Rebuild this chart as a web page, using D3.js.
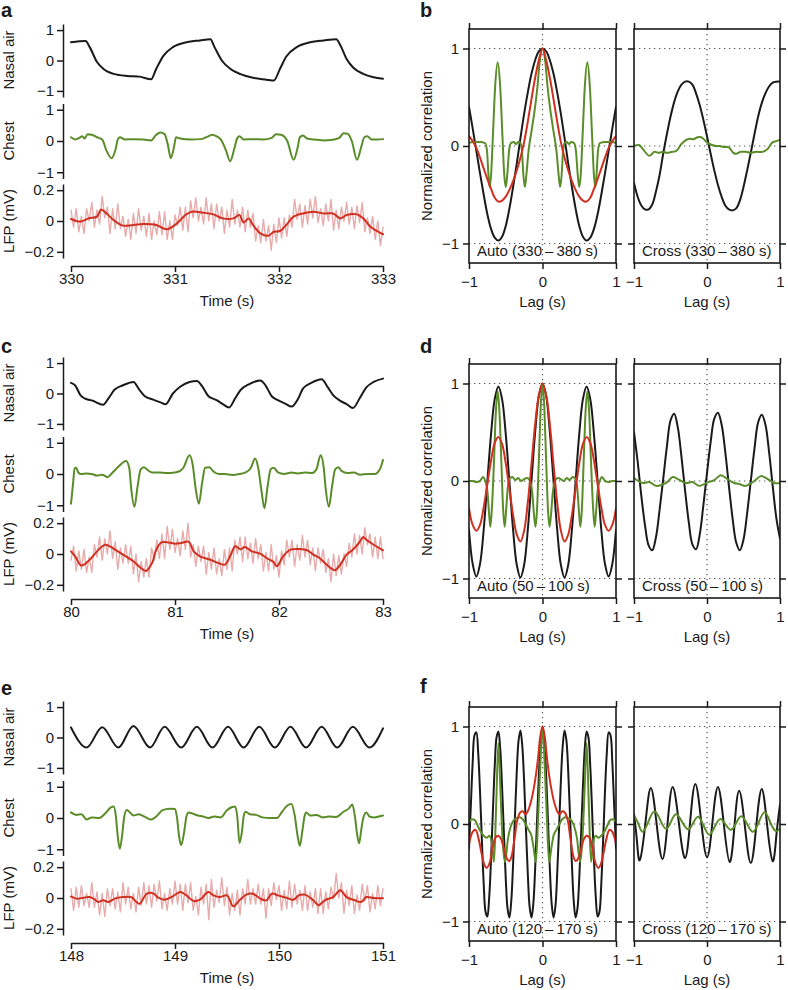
<!DOCTYPE html>
<html><head><meta charset="utf-8">
<script src="https://cdn.jsdelivr.net/npm/d3@7"></script>
<style>body{margin:0;background:#fff}svg{display:block}</style>
</head><body><svg id="c" width="788" height="990"></svg>
<script>
// ---------------- DATA ----------------
// Panel a (330-333 s)
const xTicksA = [330,331,332,333];
const nasalA_t = [330.00,330.14,330.18,330.25,330.31,330.41,330.54,330.66,330.77,330.82,330.89,330.98,331.11,331.24,331.34,331.38,331.45,331.53,331.63,331.75,331.88,331.95,332.01,332.07,332.17,332.30,332.43,332.55,332.59,332.65,332.71,332.81,332.91,333.00];
const nasalA_v = [0.60,0.64,0.44,-0.05,-0.27,-0.44,-0.51,-0.53,-0.62,-0.27,0.16,0.44,0.60,0.66,0.70,0.44,0.00,-0.27,-0.45,-0.57,-0.63,-0.66,-0.27,0.13,0.44,0.60,0.66,0.70,0.50,0.05,-0.22,-0.44,-0.55,-0.60];
const chestA_t = [330.00,330.04,330.08,330.11,330.13,330.16,330.20,330.25,330.30,330.34,330.39,330.43,330.45,330.47,330.52,330.60,330.70,330.77,330.82,330.86,330.90,330.93,330.96,330.99,331.01,331.05,331.15,331.25,331.32,331.36,331.40,331.44,331.49,331.53,331.57,331.60,331.62,331.66,331.75,331.85,331.93,331.97,332.02,332.08,332.14,332.18,332.20,332.23,332.27,332.33,332.43,332.50,332.58,332.62,332.66,332.70,332.75,332.79,332.82,332.85,332.89,332.95,333.00];
const chestA_v = [0.12,0.05,0.10,0.15,0.08,0.22,0.20,0.12,0.05,-0.30,-0.55,-0.25,0.05,0.12,0.05,0.06,0.05,0.02,0.20,0.27,0.22,-0.10,-0.55,-0.20,0.12,0.08,0.05,0.06,0.15,0.20,0.15,0.05,-0.30,-0.65,-0.25,0.10,0.15,0.05,0.06,0.05,0.10,0.22,0.20,0.00,-0.60,-0.20,0.12,0.18,0.08,0.05,0.02,0.03,0.10,0.25,0.23,0.00,-0.60,-0.20,0.12,0.15,0.05,0.05,0.06];
const lfpA_t = [330.00,330.09,330.17,330.25,330.29,330.34,330.41,330.50,330.60,330.70,330.82,330.92,331.02,331.10,331.16,331.27,331.37,331.46,331.56,331.62,331.66,331.71,331.75,331.82,331.90,331.95,332.01,332.07,332.14,332.23,332.33,332.43,332.52,332.59,332.65,332.75,332.81,332.88,333.00];
const lfpA_v = [0.013,-0.004,0.017,0.028,0.075,0.05,0.006,-0.03,-0.026,-0.02,-0.026,-0.054,-0.015,0.039,0.06,0.054,0.043,0.017,0.017,0.039,-0.01,0.017,-0.026,-0.08,-0.095,-0.07,-0.065,-0.026,0.028,0.049,0.06,0.049,0.049,0.017,0.039,0.043,0.017,-0.037,-0.086];
const lfpRawA = [0.07,-0.04,0.08,-0.07,0.03,-0.08,0.08,0.00,0.12,-0.04,0.07,-0.02,0.16,0.02,0.09,-0.08,0.08,-0.05,0.11,-0.05,0.03,-0.10,0.01,-0.12,0.05,-0.08,0.08,-0.06,0.03,-0.10,0.05,-0.12,0.00,-0.09,0.06,-0.09,0.06,-0.12,0.00,-0.12,0.04,-0.03,0.09,-0.06,0.09,-0.07,0.13,0.02,0.15,0.00,0.09,-0.02,0.15,0.00,0.11,-0.05,0.11,0.00,0.09,-0.08,0.07,-0.04,0.14,-0.02,0.07,-0.04,0.09,-0.07,0.07,-0.04,0.05,-0.13,-0.03,-0.14,0.01,-0.13,-0.03,-0.19,-0.02,-0.14,0.02,-0.11,0.02,-0.10,0.04,-0.04,0.14,0.01,0.11,-0.04,0.10,-0.02,0.14,0.02,0.16,-0.01,0.08,-0.03,0.11,0.00,0.14,-0.06,0.07,-0.05,0.09,0.00,0.12,-0.02,0.09,-0.05,0.10,-0.01,0.12,-0.07,0.02,-0.08,0.03,-0.12,0.00,-0.16,-0.04];

// Panel c (80-83 s)
const xTicksC = [80,81,82,83];
const nasalC_t = [80.00,80.04,80.09,80.13,80.21,80.31,80.36,80.42,80.50,80.60,80.66,80.71,80.79,80.86,80.91,80.98,81.05,81.14,81.21,81.26,81.32,81.40,81.46,81.52,81.58,81.63,81.71,81.82,81.87,81.93,81.99,82.06,82.12,82.19,82.23,82.31,82.41,82.47,82.52,82.59,82.65,82.71,82.78,82.84,82.91,83.00];
const nasalC_v = [0.35,0.27,-0.05,-0.16,-0.24,-0.37,-0.16,0.13,0.27,0.38,0.11,-0.09,-0.20,-0.29,-0.35,0.00,0.22,0.38,0.41,0.24,-0.08,-0.22,-0.35,-0.46,-0.15,0.11,0.30,0.43,0.27,-0.09,-0.22,-0.33,-0.43,-0.13,0.16,0.35,0.47,0.20,-0.05,-0.24,-0.35,-0.48,-0.13,0.20,0.38,0.49];
const chestC_t = [80.00,80.02,80.035,80.05,80.07,80.10,80.15,80.20,80.25,80.30,80.35,80.40,80.46,80.53,80.56,80.58,80.61,80.64,80.67,80.70,80.74,80.78,80.85,80.92,81.00,81.05,81.08,81.14,81.17,81.20,81.23,81.26,81.29,81.33,81.37,81.42,81.48,81.55,81.62,81.68,81.73,81.77,81.80,81.83,81.86,81.89,81.92,81.95,81.99,82.05,82.12,82.18,82.25,82.32,82.36,82.40,82.43,82.45,82.48,82.51,82.54,82.57,82.60,82.66,82.72,82.78,82.85,82.92,82.97,83.00];
const chestC_v = [-0.95,-0.30,0.18,0.20,0.05,0.00,0.02,0.00,-0.05,-0.02,-0.10,0.05,0.25,0.42,0.20,-0.50,-1.05,-0.40,0.15,0.22,0.12,0.05,0.05,0.03,0.05,0.10,0.20,0.60,0.30,-0.50,-0.95,-0.30,0.20,0.22,0.08,0.00,0.00,-0.03,0.00,0.05,0.20,0.50,0.20,-0.50,-1.10,-0.40,0.15,0.20,0.05,0.00,0.05,0.02,0.05,0.03,0.15,0.60,0.20,-0.50,-1.05,-0.40,0.15,0.22,0.10,0.03,0.05,-0.02,0.00,0.00,0.15,0.45];
const lfpC_t = [80.00,80.04,80.10,80.18,80.25,80.33,80.42,80.50,80.60,80.66,80.72,80.78,80.82,80.87,80.94,81.00,81.06,81.13,81.18,81.24,81.34,81.43,81.48,81.53,81.58,81.63,81.67,81.74,81.82,81.88,81.95,81.98,82.04,82.11,82.20,82.27,82.33,82.39,82.44,82.51,82.54,82.59,82.65,82.71,82.78,82.81,82.84,82.91,83.00];
const lfpC_v = [0.017,-0.015,-0.075,-0.037,0.017,0.06,0.03,-0.004,-0.047,-0.084,-0.11,-0.058,0.028,0.075,0.075,0.067,0.071,0.08,0.017,-0.015,-0.037,-0.062,-0.069,-0.015,0.05,0.03,0.045,0.017,0.002,-0.026,-0.054,-0.08,-0.015,0.028,0.032,0.024,-0.004,-0.026,-0.058,-0.097,-0.105,-0.069,-0.004,0.028,0.082,0.11,0.092,0.06,0.024];
const lfpRawC = [-0.04,0.05,-0.11,0.02,-0.10,0.03,-0.12,-0.02,-0.12,0.06,-0.02,0.11,-0.04,0.10,0.00,0.15,-0.03,0.08,-0.10,0.04,-0.06,0.06,-0.06,0.05,-0.13,0.00,-0.18,-0.05,-0.15,-0.03,-0.15,0.04,-0.04,0.09,-0.03,0.13,-0.03,0.18,0.03,0.16,0.01,0.10,-0.01,0.15,0.03,0.20,-0.02,0.06,-0.08,0.05,-0.05,0.05,-0.13,0.01,-0.10,0.04,-0.13,-0.03,-0.14,0.03,-0.10,0.04,-0.11,0.09,0.00,0.11,-0.05,0.11,-0.03,0.07,-0.06,0.10,-0.03,0.06,-0.11,0.01,-0.11,0.06,-0.10,-0.01,-0.15,0.02,-0.07,0.09,-0.02,0.09,-0.08,0.06,-0.04,0.12,-0.02,0.09,-0.07,0.04,-0.11,0.04,-0.06,0.03,-0.12,-0.03,-0.18,0.00,-0.14,-0.01,-0.13,0.00,-0.08,0.07,-0.02,0.13,0.00,0.12,0.00,0.17,0.06,0.13,-0.02,0.11,-0.03,0.11,-0.03];

// Panel e (148-151 s)
const xTicksE = [148,149,150,151];
const nasalE_t = [148.00,148.15,148.30,148.455,148.60,148.76,148.90,149.06,149.21,149.36,149.51,149.66,149.81,149.96,150.11,150.26,150.41,150.56,150.71,150.87,151.00];
const nasalE_v = [0.33,-0.33,0.34,-0.33,0.38,-0.33,0.35,-0.33,0.35,-0.33,0.35,-0.33,0.35,-0.33,0.35,-0.33,0.35,-0.33,0.35,-0.33,0.30];
const chestE_t = [148.00,148.05,148.10,148.15,148.20,148.27,148.33,148.38,148.41,148.43,148.45,148.47,148.49,148.51,148.535,148.56,148.60,148.65,148.72,148.77,148.82,148.88,148.95,149.00,149.02,149.04,149.06,149.09,149.11,149.13,149.16,149.22,149.27,149.32,149.38,149.44,149.50,149.55,149.58,149.60,149.62,149.645,149.66,149.68,149.72,149.78,149.84,149.92,149.98,150.03,150.08,150.12,150.15,150.18,150.20,150.225,150.245,150.26,150.30,150.36,150.42,150.48,150.55,150.62,150.67,150.705,150.73,150.75,150.77,150.79,150.81,150.84,150.87,150.92,150.96,151.00];
const chestE_v = [0.18,0.10,0.12,-0.05,0.02,0.00,0.15,0.33,0.37,0.10,-0.60,-0.98,-0.60,0.00,0.26,0.20,0.08,0.12,0.02,-0.05,0.05,0.25,0.30,0.29,0.00,-0.60,-0.87,-0.40,0.05,0.18,0.15,0.08,0.05,0.00,0.05,0.02,0.25,0.35,0.37,0.00,-0.80,-0.40,0.05,0.20,0.12,0.10,0.02,0.00,0.00,0.20,0.40,0.45,0.10,-0.60,-0.89,-0.40,0.05,0.18,0.08,0.10,0.02,0.05,0.03,0.20,0.30,0.43,0.05,-0.50,-0.81,-0.40,0.00,0.18,0.05,0.02,0.05,0.08];
const lfpE_t = [148.00,148.05,148.12,148.18,148.23,148.26,148.31,148.36,148.42,148.50,148.58,148.63,148.66,148.73,148.79,148.84,148.90,148.98,149.05,149.11,149.18,149.24,149.32,149.37,149.43,149.50,149.56,149.62,149.69,149.75,149.82,149.88,149.93,149.99,150.07,150.14,150.19,150.25,150.33,150.38,150.44,150.52,150.59,150.65,150.73,150.79,150.84,150.91,151.00];
const lfpE_v = [0.01,-0.004,0.002,0.006,-0.011,-0.026,-0.015,-0.026,-0.004,0.006,0.006,-0.026,-0.037,0.028,0.03,0.002,-0.011,0.011,0.039,0.017,-0.02,-0.011,0.039,0.017,0.006,0.017,-0.054,-0.015,0.024,0.028,-0.004,-0.015,0.028,0.017,0.002,-0.011,0.017,0.022,-0.015,-0.047,-0.015,0.006,0.05,0.006,-0.015,-0.026,0.006,0.0,-0.002];
const lfpRawE = [0.06,-0.08,0.07,-0.06,0.08,-0.05,0.03,-0.06,0.10,-0.06,0.04,-0.11,0.03,-0.12,0.06,-0.05,0.06,-0.07,0.04,-0.09,0.10,-0.04,0.07,-0.07,0.03,-0.09,0.07,-0.05,0.10,-0.04,0.08,-0.06,0.09,-0.02,0.11,-0.07,0.03,-0.08,0.06,-0.04,0.11,-0.04,0.09,-0.08,0.09,-0.03,0.10,-0.08,0.01,-0.11,0.07,-0.04,0.09,-0.14,0.12,-0.06,0.05,-0.03,0.13,-0.05,0.07,-0.11,0.03,-0.08,0.05,-0.11,0.06,-0.04,0.12,-0.04,0.06,-0.04,0.09,-0.04,0.06,-0.13,0.06,-0.05,0.10,-0.01,0.08,-0.08,0.05,-0.07,0.11,-0.06,0.09,-0.04,0.05,-0.08,0.08,-0.08,0.04,-0.06,0.06,-0.10,0.06,-0.10,0.04,-0.07,0.07,-0.01,0.16,0.00,0.10,-0.10,0.05,-0.05,0.08,-0.10,0.02,-0.08,0.09,-0.02,0.08,-0.09,0.03,-0.07,0.08,-0.05,0.06];
const rawDt = 0.025;

// Correlation panels
const lagTicks = [-1,0,1];
const lag41 = [-1,-0.95,-0.9,-0.85,-0.8,-0.75,-0.7,-0.65,-0.6,-0.55,-0.5,-0.45,-0.4,-0.35,-0.3,-0.25,-0.2,-0.15,-0.1,-0.05,0,0.05,0.1,0.15,0.2,0.25,0.3,0.35,0.4,0.45,0.5,0.55,0.6,0.65,0.7,0.75,0.8,0.85,0.9,0.95,1];
const lag81 = [-1,-0.975,-0.95,-0.925,-0.9,-0.875,-0.85,-0.825,-0.8,-0.775,-0.75,-0.725,-0.7,-0.675,-0.65,-0.625,-0.6,-0.575,-0.55,-0.525,-0.5,-0.475,-0.45,-0.425,-0.4,-0.375,-0.35,-0.325,-0.3,-0.275,-0.25,-0.225,-0.2,-0.175,-0.15,-0.125,-0.1,-0.075,-0.05,-0.025,0,0.025,0.05,0.075,0.1,0.125,0.15,0.175,0.2,0.225,0.25,0.275,0.3,0.325,0.35,0.375,0.4,0.425,0.45,0.475,0.5,0.525,0.55,0.575,0.6,0.625,0.65,0.675,0.7,0.725,0.75,0.775,0.8,0.825,0.85,0.875,0.9,0.925,0.95,0.975,1];

// b
const autoB_black = [0.40,0.18,-0.05,-0.28,-0.50,-0.70,-0.85,-0.94,-0.97,-0.93,-0.82,-0.64,-0.42,-0.18,0.08,0.33,0.55,0.74,0.88,0.97,1.00,0.97,0.88,0.74,0.55,0.33,0.08,-0.18,-0.42,-0.64,-0.82,-0.93,-0.97,-0.94,-0.85,-0.70,-0.50,-0.28,-0.05,0.18,0.40];
const autoB_red = [0.10,0.05,-0.02,-0.12,-0.23,-0.34,-0.44,-0.53,-0.57,-0.56,-0.52,-0.45,-0.36,-0.25,-0.12,0.04,0.25,0.48,0.70,0.88,1.00,0.88,0.70,0.48,0.25,0.04,-0.12,-0.25,-0.36,-0.45,-0.52,-0.56,-0.57,-0.53,-0.44,-0.34,-0.23,-0.12,-0.02,0.05,0.10];
const autoB_green_lag = [-1,-0.95,-0.85,-0.78,-0.755,-0.735,-0.72,-0.70,-0.675,-0.645,-0.61,-0.575,-0.545,-0.52,-0.50,-0.48,-0.455,-0.43,-0.39,-0.36,-0.33,-0.30,-0.28,-0.26,-0.24,-0.22,-0.19,-0.15,-0.11,-0.07,-0.04,0,0.04,0.07,0.11,0.15,0.19,0.22,0.24,0.26,0.28,0.30,0.33,0.36,0.39,0.43,0.455,0.48,0.50,0.52,0.545,0.575,0.61,0.645,0.675,0.70,0.72,0.735,0.755,0.78,0.85,0.95,1];
const autoB_green = [0.03,0.04,0.04,0.03,-0.05,-0.30,-0.42,-0.30,0.10,0.60,0.86,0.60,0.10,-0.30,-0.42,-0.30,-0.05,0.03,0.04,0.02,0.04,0.03,-0.05,-0.30,-0.42,-0.30,-0.05,0.15,0.35,0.60,0.85,1.00,0.85,0.60,0.35,0.15,-0.05,-0.30,-0.42,-0.30,-0.05,0.03,0.04,0.02,0.04,0.03,-0.05,-0.30,-0.42,-0.30,0.10,0.60,0.86,0.60,0.10,-0.30,-0.42,-0.30,-0.05,0.03,0.04,0.04,0.03];
const crossB_black = [-0.38,-0.52,-0.61,-0.65,-0.65,-0.60,-0.47,-0.30,-0.08,0.12,0.30,0.45,0.56,0.63,0.66,0.66,0.63,0.54,0.42,0.27,0.10,-0.08,-0.25,-0.40,-0.52,-0.61,-0.65,-0.66,-0.64,-0.56,-0.42,-0.25,-0.07,0.12,0.30,0.44,0.54,0.61,0.65,0.66,0.66];
const crossB_green_lag = [-1.0,-0.93,-0.87,-0.79,-0.72,-0.66,-0.61,-0.55,-0.48,-0.42,-0.35,-0.29,-0.24,-0.18,-0.13,-0.08,-0.03,0.01,0.07,0.12,0.17,0.23,0.28,0.31,0.36,0.40,0.46,0.53,0.60,0.67,0.76,0.83,0.90,0.95,1.0];
const crossB_green = [0.0,0.01,-0.04,-0.10,-0.06,-0.07,-0.06,-0.07,-0.06,-0.05,0.02,0.06,0.075,0.07,0.09,0.09,0.06,0.03,0.01,0.0,0.0,-0.01,-0.01,-0.02,-0.07,-0.08,-0.06,-0.06,-0.07,-0.06,-0.06,-0.03,0.04,0.05,0.065];

// d
const autoD_black = [-0.50,-0.85,-0.98,-0.85,-0.50,0.00,0.48,0.84,0.97,0.84,0.48,-0.01,-0.50,-0.86,-0.99,-0.86,-0.50,0.00,0.50,0.87,1.00,0.87,0.50,0.00,-0.50,-0.86,-0.99,-0.86,-0.50,-0.01,0.48,0.84,0.97,0.84,0.48,0.00,-0.50,-0.85,-0.98,-0.85,-0.50];
const autoD_red = [-0.28,-0.45,-0.51,-0.45,-0.27,-0.03,0.21,0.39,0.45,0.38,0.18,-0.085,-0.35,-0.55,-0.62,-0.51,-0.22,0.17,0.58,0.88,1.00,0.88,0.58,0.17,-0.22,-0.51,-0.62,-0.55,-0.35,-0.085,0.18,0.38,0.45,0.39,0.21,-0.03,-0.27,-0.45,-0.51,-0.45,-0.28];
const autoD_green_lag = [-1,-0.95,-0.9,-0.85,-0.81,-0.78,-0.75,-0.73,-0.71,-0.69,-0.66,-0.635,-0.61,-0.585,-0.56,-0.535,-0.515,-0.495,-0.47,-0.44,-0.41,-0.37,-0.33,-0.29,-0.25,-0.21,-0.17,-0.14,-0.115,-0.095,-0.075,-0.05,-0.025,0,0.025,0.05,0.075,0.095,0.115,0.14,0.17,0.21,0.25,0.29,0.33,0.37,0.41,0.44,0.47,0.495,0.515,0.535,0.56,0.585,0.61,0.635,0.66,0.69,0.71,0.73,0.75,0.78,0.81,0.85,0.9,0.95,1];
const autoD_green = [0.0,0.0,-0.01,0.0,0.04,0.0,-0.1,-0.3,-0.47,-0.3,0.2,0.7,0.92,0.7,0.2,-0.3,-0.47,-0.3,-0.05,0.03,0.04,0.01,0.03,0.0,0.02,0.03,0.0,-0.12,-0.35,-0.47,-0.3,0.2,0.75,1.0,0.75,0.2,-0.3,-0.47,-0.35,-0.12,0.0,0.03,0.02,0.0,0.03,0.01,0.04,0.03,-0.05,-0.3,-0.47,-0.3,0.2,0.7,0.92,0.7,0.2,-0.3,-0.47,-0.3,-0.1,0.0,0.04,0.0,-0.01,0.0,0.0];
const crossD_black = [0.50,0.20,-0.15,-0.45,-0.66,-0.71,-0.58,-0.30,0.02,0.35,0.62,0.69,0.55,0.25,-0.10,-0.42,-0.65,-0.70,-0.55,-0.25,0.08,0.40,0.64,0.70,0.58,0.30,-0.05,-0.38,-0.63,-0.71,-0.60,-0.33,0.00,0.33,0.60,0.68,0.58,0.30,-0.05,-0.38,-0.59];
const crossD_green_lag = [-1.0,-0.88,-0.79,-0.70,-0.56,-0.47,-0.40,-0.29,-0.20,-0.105,-0.01,0.10,0.19,0.28,0.37,0.44,0.53,0.63,0.74,0.81,0.92,1.0];
const crossD_green = [0.03,-0.02,-0.01,-0.05,-0.02,0.04,0.02,-0.02,-0.01,-0.05,-0.02,0.01,0.06,0.02,-0.02,-0.03,-0.05,-0.01,0.05,0.03,-0.02,-0.02];

// f
const autoF_black = [-0.25,0.19,0.63,0.91,0.94,0.73,0.33,-0.16,-0.61,-0.90,-0.95,-0.75,-0.36,0.13,0.59,0.89,0.95,0.77,0.38,-0.10,-0.56,-0.87,-0.96,-0.79,-0.41,0.07,0.54,0.86,0.96,0.80,0.44,-0.05,-0.51,-0.85,-0.96,-0.82,-0.46,0.02,0.49,0.83,1.00,0.83,0.49,0.02,-0.46,-0.82,-0.96,-0.85,-0.51,-0.05,0.44,0.80,0.96,0.86,0.54,0.07,-0.41,-0.79,-0.96,-0.87,-0.56,-0.10,0.38,0.77,0.95,0.89,0.59,0.13,-0.36,-0.75,-0.95,-0.90,-0.61,-0.16,0.33,0.73,0.94,0.91,0.63,0.19,-0.25];
const autoF_red_lag = [-1.0,-0.95,-0.91,-0.87,-0.83,-0.79,-0.76,-0.72,-0.68,-0.64,-0.6,-0.56,-0.52,-0.48,-0.45,-0.42,-0.38,-0.34,-0.3,-0.27,-0.23,-0.2,-0.15,-0.1,-0.06,-0.03,0,0.03,0.06,0.1,0.15,0.2,0.23,0.27,0.3,0.34,0.38,0.42,0.45,0.48,0.52,0.56,0.6,0.64,0.68,0.72,0.76,0.79,0.83,0.87,0.91,0.95,1.0];
const autoF_red = [-0.20,-0.08,-0.06,-0.15,-0.30,-0.42,-0.45,-0.40,-0.25,-0.14,-0.12,-0.16,-0.27,-0.36,-0.38,-0.33,-0.15,0.05,0.12,0.13,0.10,0.13,0.25,0.45,0.68,0.90,1.00,0.90,0.68,0.45,0.25,0.13,0.10,0.13,0.12,0.05,-0.15,-0.33,-0.38,-0.36,-0.27,-0.16,-0.12,-0.14,-0.25,-0.40,-0.45,-0.42,-0.30,-0.15,-0.06,-0.08,-0.20];
const autoF_green_lag = [-1.0,-0.96,-0.92,-0.88,-0.84,-0.8,-0.76,-0.72,-0.69,-0.66,-0.63,-0.6,-0.57,-0.54,-0.51,-0.47,-0.43,-0.39,-0.35,-0.31,-0.27,-0.23,-0.19,-0.15,-0.12,-0.09,-0.06,-0.03,0,0.03,0.06,0.09,0.12,0.15,0.19,0.23,0.27,0.31,0.35,0.39,0.43,0.47,0.51,0.54,0.57,0.6,0.63,0.66,0.69,0.72,0.76,0.8,0.84,0.88,0.92,0.96,1.0];
const autoF_green = [0.02,0.05,0.04,-0.02,-0.08,-0.12,-0.14,-0.12,-0.2,-0.39,0.2,0.83,0.3,-0.2,-0.39,-0.15,-0.02,0.04,0.06,0.07,0.05,0.0,-0.06,-0.12,-0.25,-0.39,0.05,0.6,1.0,0.6,0.05,-0.39,-0.25,-0.12,-0.06,0.0,0.05,0.07,0.06,0.04,-0.02,-0.15,-0.39,-0.2,0.3,0.83,0.2,-0.39,-0.2,-0.12,-0.14,-0.12,-0.08,-0.02,0.04,0.05,0.02];
const crossF_black_lag = [-1.0,-0.96,-0.92,-0.845,-0.77,-0.69,-0.61,-0.54,-0.47,-0.385,-0.30,-0.23,-0.16,-0.08,0.0,0.075,0.15,0.23,0.31,0.375,0.44,0.52,0.60,0.675,0.75,0.825,0.90,0.95,1.0];
const crossF_black = [0.10,-0.17,-0.37,0.0,0.37,0.0,-0.36,0.01,0.38,0.01,-0.35,0.03,0.41,0.03,-0.34,0.02,0.38,0.0,-0.39,-0.03,0.34,-0.03,-0.40,-0.02,0.36,-0.02,-0.38,-0.12,0.20];
const crossF_green_lag = [-1.0,-0.94,-0.88,-0.80,-0.72,-0.64,-0.56,-0.49,-0.42,-0.34,-0.26,-0.19,-0.12,-0.045,0.03,0.105,0.18,0.255,0.33,0.40,0.47,0.55,0.63,0.71,0.79,0.865,0.94,1.0];
const crossF_green = [0.09,0.0,-0.08,0.03,0.13,0.04,-0.05,0.03,0.10,0.02,-0.055,0.01,0.075,-0.02,-0.11,-0.03,0.05,-0.005,-0.06,0.01,0.08,0.0,-0.08,0.02,0.12,0.02,-0.07,-0.045];

// ---------------- DRAWING ----------------
const INK = '#1a1a1a', GREEN = '#5b8c2a', RED = '#cf3020', PINK = '#e7abab', DOT = '#555';
const FONT = '"Liberation Sans", Arial, Helvetica, sans-serif';
const FS = 15;
const svg = d3.select('#c');
const fmt = d => (d < 0 ? '\u2212' : '') + Math.abs(d);

function styleAxis(sel, showDomain) {
  sel.attr('font-size', FS).attr('font-family', FONT);
  sel.selectAll('line').attr('stroke', INK).attr('stroke-width', 1.5);
  sel.select('.domain').attr('stroke', INK).attr('stroke-width', 1.5);
  if (!showDomain) sel.select('.domain').remove();
  sel.selectAll('text').attr('fill', INK);
}
function txt(g, x, y, s, opts = {}) {
  const t = g.append('text').attr('x', x).attr('y', y).text(s)
    .attr('font-family', FONT).attr('font-size', opts.size || FS).attr('fill', INK)
    .attr('text-anchor', opts.anchor || 'start');
  if (opts.bold) t.attr('font-weight', 'bold');
  if (opts.rotate) t.attr('transform', `rotate(-90,${x},${y})`);
  return t;
}
function drawLine(g, xs, ys, tArr, vArr, color, w, curve) {
  const n = Math.min(tArr.length, vArr.length);
  const pts = [];
  for (let i = 0; i < n; i++) pts.push([xs(tArr[i]), ys(vArr[i])]);
  g.append('path').attr('d', d3.line().curve(curve)(pts))
    .attr('fill', 'none').attr('stroke', color).attr('stroke-width', w)
    .attr('stroke-linejoin', 'round').attr('stroke-linecap', 'round');
}

// ---- left column ----
const leftRows = [
  {dy: 0, letter: 'a', letterY: 17, ticks: xTicksA, nasal: [nasalA_t, nasalA_v], chest: [chestA_t, chestA_v], lfp: [lfpA_t, lfpA_v], raw: lfpRawA},
  {dy: 333, letter: 'c', letterY: 353, ticks: xTicksC, nasal: [nasalC_t, nasalC_v], chest: [chestC_t, chestC_v], lfp: [lfpC_t, lfpC_v], raw: lfpRawC},
  {dy: 677, letter: 'e', letterY: 695, ticks: xTicksE, nasal: [nasalE_t, nasalE_v], chest: [chestE_t, chestE_v], lfp: [lfpE_t, lfpE_v], raw: lfpRawE}
];
leftRows.forEach(r => {
  const g = svg.append('g').attr('transform', `translate(0,${r.dy})`);
  const t0 = r.ticks[0], t1 = r.ticks[r.ticks.length - 1];
  const x = d3.scaleLinear().domain([t0, t1]).range([71, 383]);
  const yN = d3.scaleLinear().domain([-1.2, 1.2]).range([97, 24]);
  const yC = d3.scaleLinear().domain([-1.2, 1.2]).range([178.5, 103.5]);
  const yL = d3.scaleLinear().domain([-0.24, 0.24]).range([258, 184]);

  txt(svg, 1, r.letterY, r.letter, {size: 20, bold: true});

  [[yN, [-1, 0, 1]], [yC, [-1, 0, 1]], [yL, [-0.2, 0, 0.2]]].forEach(([ys, tv]) => {
    g.append('g').attr('transform', 'translate(63,0)')
      .call(d3.axisLeft(ys).tickValues(tv).tickFormat(fmt).tickSize(6).tickSizeOuter(0).tickPadding(3))
      .call(s => styleAxis(s, true));
  });
  g.append('g').attr('transform', 'translate(0,266)')
    .call(d3.axisBottom(x).tickValues(r.ticks).tickFormat(d => d).tickSize(6).tickSizeOuter(0).tickPadding(1))
    .call(s => styleAxis(s, true));

  txt(g, 14, 60, 'Nasal air', {anchor: 'middle', rotate: true});
  txt(g, 14, 141, 'Chest', {anchor: 'middle', rotate: true});
  txt(g, 14, 221, 'LFP (mV)', {anchor: 'middle', rotate: true});
  txt(g, 227, 306, 'Time (s)', {anchor: 'middle'});

  drawLine(g, x, yN, r.nasal[0], r.nasal[1], INK, 2, d3.curveMonotoneX);
  drawLine(g, x, yC, r.chest[0], r.chest[1], GREEN, 2, d3.curveMonotoneX);
  const rawT = r.raw.map((_, i) => t0 + i * rawDt);
  drawLine(g, x, yL, rawT, r.raw, PINK, 1.4, d3.curveLinear);
  drawLine(g, x, yL, r.lfp[0], r.lfp[1], RED, 2, d3.curveCatmullRom);
});

// ---- right column ----
const cr = d3.curveCatmullRom, mono = d3.curveMonotoneX, nat = d3.curveNatural;
const rightRows = [
  {dy: 0, letter: 'b', letterY: 17, win: '330\u2009\u2013\u2009380 s',
   auto: [[lag41, autoB_black, INK, cr], [autoB_green_lag, autoB_green, GREEN, mono], [lag41, autoB_red, RED, cr]],
   cross: [[lag41, crossB_black, INK, cr], [crossB_green_lag, crossB_green, GREEN, cr]]},
  {dy: 335, letter: 'd', letterY: 353, win: '50\u2009\u2013\u2009100 s',
   auto: [[lag41, autoD_black, INK, cr], [autoD_green_lag, autoD_green, GREEN, mono], [lag41, autoD_red, RED, cr]],
   cross: [[lag41, crossD_black, INK, cr], [crossD_green_lag, crossD_green, GREEN, cr]]},
  {dy: 678, letter: 'f', letterY: 693, win: '120\u2009\u2013\u2009170 s',
   auto: [[lag81, autoF_black, INK, cr], [autoF_green_lag, autoF_green, GREEN, mono], [autoF_red_lag, autoF_red, RED, cr]],
   cross: [[crossF_black_lag, crossF_black, INK, nat], [crossF_green_lag, crossF_green, GREEN, nat]]}
];
rightRows.forEach((r, ri) => {
  const g = svg.append('g').attr('transform', `translate(0,${r.dy})`);
  const y = d3.scaleLinear().domain([-1.2, 1.2]).range([263, 29]);
  txt(svg, 420, r.letterY, r.letter, {size: 20, bold: true});
  txt(g, 432, 146, 'Normalized correlation', {anchor: 'middle', rotate: true});
  const boxes = [
    {x0: 469, x1: 616, name: 'Auto', curves: r.auto},
    {x0: 634, x1: 780, name: 'Cross', curves: r.cross}
  ];
  boxes.forEach((b, bi) => {
    const x = d3.scaleLinear().domain([-1, 1]).range([b.x0, b.x1]);
    [-1, 0, 1].forEach(v => g.append('line').attr('x1', b.x0).attr('x2', b.x1)
      .attr('y1', y(v)).attr('y2', y(v)).attr('stroke', DOT).attr('stroke-width', 1.2)
      .attr('stroke-dasharray', '1.3,3.7'));
    g.append('line').attr('x1', x(0)).attr('x2', x(0)).attr('y1', y(1.2)).attr('y2', y(-1.2))
      .attr('stroke', DOT).attr('stroke-width', 1.2).attr('stroke-dasharray', '1.3,3.7');
    const cid = `clip${ri}_${bi}`;
    g.append('clipPath').attr('id', cid).append('rect')
      .attr('x', b.x0).attr('y', 29).attr('width', b.x1 - b.x0).attr('height', 234);
    const cg = g.append('g').attr('clip-path', `url(#${cid})`);
    b.curves.forEach(([lags, vals, col, cv]) => drawLine(cg, x, y, lags, vals, col, 2, cv));
    g.append('rect').attr('x', b.x0).attr('y', 29).attr('width', b.x1 - b.x0).attr('height', 234)
      .attr('fill', 'none').attr('stroke', INK).attr('stroke-width', 1.6);
    g.append('g').attr('transform', 'translate(0,263)')
      .call(d3.axisBottom(x).tickValues(lagTicks).tickFormat(fmt).tickSize(6).tickPadding(7))
      .call(s => styleAxis(s, false));
    g.append('g').attr('transform', 'translate(0,29)')
      .call(d3.axisTop(x).tickValues(lagTicks).tickFormat('').tickSize(6))
      .call(s => styleAxis(s, false));
    g.append('g').attr('transform', `translate(${b.x0},0)`)
      .call(d3.axisLeft(y).tickValues([-1, 0, 1]).tickFormat(bi === 0 ? fmt : '').tickSize(6).tickPadding(4))
      .call(s => styleAxis(s, false));
    g.append('g').attr('transform', `translate(${b.x1},0)`)
      .call(d3.axisRight(y).tickValues([-1, 0, 1]).tickFormat('').tickSize(6))
      .call(s => styleAxis(s, false));
    txt(g, b.x0 + 8, 256, `${b.name} (${r.win})`);
    txt(g, (b.x0 + b.x1) / 2, 307, 'Lag (s)', {anchor: 'middle'});
  });
});
</script></body></html>
